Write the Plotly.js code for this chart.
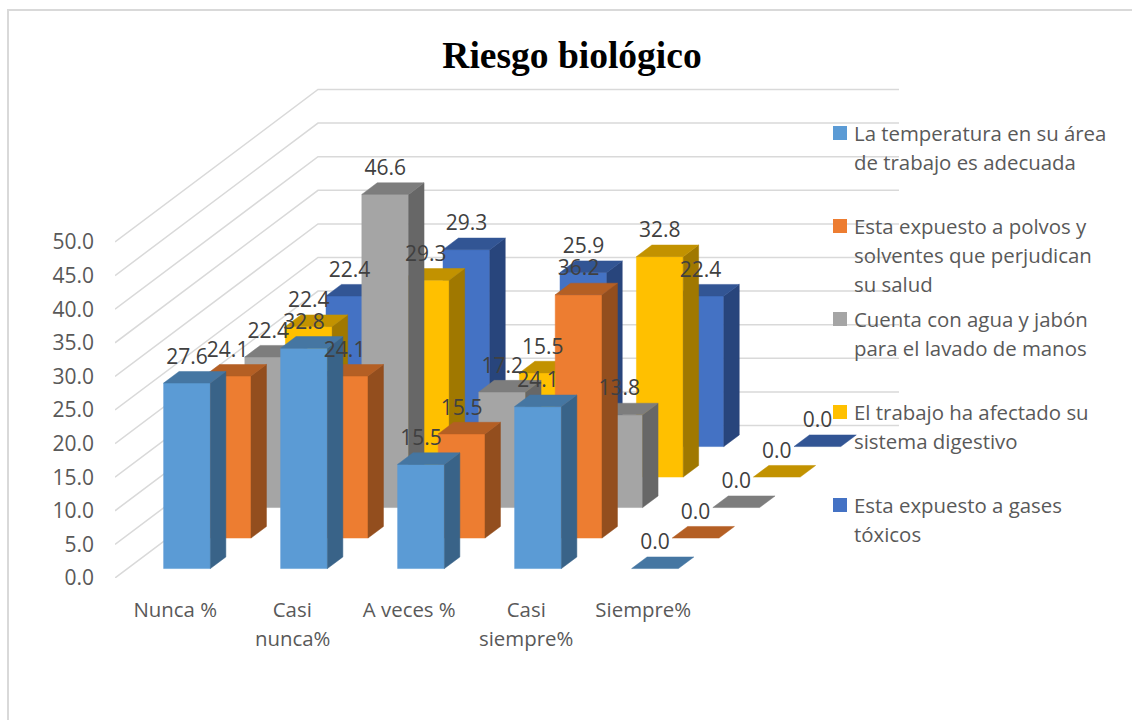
<!DOCTYPE html>
<html><head><meta charset="utf-8">
<script src="https://cdn.plot.ly/plotly-3.0.1.min.js"></script>
<style>html,body{margin:0;padding:0;background:#fff}#c{width:1132px;height:720px}</style>
</head><body><div id="c"></div>
<script>
const categories = ['Nunca %','Casi','A veces %','Casi','Siempre%'];
const categorySecondLines = ['', 'nunca%', '', 'siempre%', ''];
const temperatura = [27.6, 32.8, 15.5, 24.1, 0.0];
const polvos = [24.1, 24.1, 15.5, 36.2, 0.0];
const aguaJabon = [22.4, 46.6, 17.2, 13.8, 0.0];
const digestivo = [22.4, 29.3, 15.5, 32.8, 0.0];
const gases = [22.4, 29.3, 25.9, 22.4, 0.0];
const yTicks = [0,5,10,15,20,25,30,35,40,45,50];
const seriesValues = [temperatura, polvos, aguaJabon, digestivo, gases];
const seriesLines = [
  ['La temperatura en su área','de trabajo es adecuada'],
  ['Esta expuesto a polvos y','solventes que perjudican','su salud'],
  ['Cuenta con agua y jabón','para el lavado de manos'],
  ['El trabajo ha afectado su','sistema digestivo'],
  ['Esta expuesto a gases','tóxicos']
];
const frontColors = ['#5B9BD5','#ED7D31','#A5A5A5','#FFC000','#4472C4'];
const topColors   = ['#4576A2','#B45F24','#7D7D7D','#C29200','#325594'];
const sideColors  = ['#396388','#934E1E','#676767','#A07800','#28457C'];

// Page frame of the plot (px)
const L=115, T=60, R=903, B=578;
const pxPerCat=117, pxPerVal=6.72;
// oblique projection of the depth axis, in data units per series row
const DX=40.6/pxPerCat, DY=30.5/pxPerVal;
const D0=0.31, DEPTH=0.38, HALF=0.2, NUDGE=0.008;
const X=(k,d)=>k+d*DX, Y=(v,d)=>v+d*DY;
const FS='"Open Sans", sans-serif';

const traces=[];
// walls
const gx=[],gy=[];
yTicks.forEach(v=>{gx.push(-0.5,X(-0.5,5),X(-0.5+4.966,5),null);gy.push(v,Y(v,5),Y(v,5),null);});
traces.push({type:'scatter',mode:'lines',x:gx,y:gy,line:{color:'#D9D9D9',width:1.5},hoverinfo:'skip',showlegend:false,name:'grid'});

function poly(xs,ys,color,name){
  traces.push({type:'scatter',mode:'lines',x:xs,y:ys,fill:'toself',fillcolor:color,
    line:{color:color,width:0.5},hoverinfo:'skip',showlegend:false,name:name});
}
for(let s=4;s>=0;s--){
  const vals=seriesValues[s], d1=s+D0, d2=d1+DEPTH;
  const fx=[],fy=[],sx=[],sy=[],tx=[],ty=[];
  vals.forEach((v,k)=>{
    const l=k-HALF+NUDGE, r=k+HALF+NUDGE;
    if(v>0){
      fx.push(X(l,d1),X(r,d1),X(r,d1),X(l,d1),X(l,d1),null);
      fy.push(Y(0,d1),Y(0,d1),Y(v,d1),Y(v,d1),Y(0,d1),null);
      sx.push(X(r,d1),X(r,d2),X(r,d2),X(r,d1),X(r,d1),null);
      sy.push(Y(0,d1),Y(0,d2),Y(v,d2),Y(v,d1),Y(0,d1),null);
    }
    tx.push(X(l,d1),X(r,d1),X(r,d2),X(l,d2),X(l,d1),null);
    ty.push(Y(v,d1),Y(v,d1),Y(v,d2),Y(v,d2),Y(v,d1),null);
  });
  poly(fx,fy,frontColors[s],seriesLines[s].join(' '));
  poly(sx,sy,sideColors[s],seriesLines[s].join(' '));
  poly(tx,ty,topColors[s],seriesLines[s].join(' '));
}
// data labels on top of everything
for(let s=0;s<5;s++){
  const vals=seriesValues[s], d2=s+D0+DEPTH;
  traces.push({type:'scatter',mode:'text',
    x:vals.map((v,k)=>X(k+NUDGE,s+D0)),
    y:vals.map(v=>Y(v,d2)+13/pxPerVal),
    text:vals.map(v=>v.toFixed(1)),
    textposition:'middle center',
    textfont:{family:FS,size:21,color:'#404040'},
    hoverinfo:'skip',showlegend:false,cliponaxis:false});
}

// helpers: page px to paper fractions
const px=x=>(x-L)/(R-L), py=y=>(B-y)/(B-T);
const shapes=[{type:'rect',xref:'paper',yref:'paper',x0:px(8),x1:px(1140),y0:py(10),y1:py(730),
  line:{color:'#D9D9D9',width:2},fillcolor:'rgba(0,0,0,0)',layer:'below'}];
const annotations=[];
const legendTops=[133,226,319,412,505];
seriesLines.forEach((lines,s)=>{
  const c=legendTops[s];
  shapes.push({type:'rect',xref:'paper',yref:'paper',x0:px(833),x1:px(847),y0:py(c-7),y1:py(c+7),
    fillcolor:frontColors[s],line:{width:0}});
  lines.forEach((t,i)=>annotations.push({xref:'paper',yref:'paper',x:px(852),y:py(c+i*29),
    xanchor:'left',yanchor:'middle',showarrow:false,text:t,align:'left',
    font:{family:FS,size:20.4,color:'#595959'}}));
});
categorySecondLines.forEach((t,k)=>{ if(t) annotations.push({xref:'x',yref:'paper',x:k+0.015,y:py(638),
  xanchor:'center',yanchor:'middle',showarrow:false,text:t,font:{family:FS,size:20.4,color:'#595959'}}); });

const layout={
  width:1132,height:720,autosize:false,paper_bgcolor:'#fff',plot_bgcolor:'rgba(0,0,0,0)',
  margin:{l:L,r:1132-R,t:T,b:720-B,pad:0},showlegend:false,
  title:{text:'<b>Riesgo biológico</b>',x:572/1132,xref:'container',xanchor:'center',y:1-55/720,yref:'container',yanchor:'middle',
    font:{family:'"Liberation Serif", serif',size:37.5,color:'#000'}},
  xaxis:{range:[-0.5,-0.5+(R-L)/pxPerCat],tickmode:'array',tickvals:[0,1,2,3,4].map(k=>k+0.015),ticktext:categories,
    showgrid:false,zeroline:false,showline:false,ticks:'',ticklabelstandoff:18,
    tickfont:{family:FS,size:20.4,color:'#595959'},fixedrange:true},
  yaxis:{range:[0,(B-T)/pxPerVal],tickmode:'array',tickvals:yTicks,ticktext:yTicks.map(v=>v.toFixed(1)),
    showgrid:false,zeroline:false,showline:false,ticks:'',ticklabelstandoff:20,
    tickfont:{family:FS,size:21,color:'#595959'},fixedrange:true},
  shapes,annotations
};
Plotly.newPlot('c',traces,layout,{displayModeBar:false,staticPlot:true});
</script></body></html>
